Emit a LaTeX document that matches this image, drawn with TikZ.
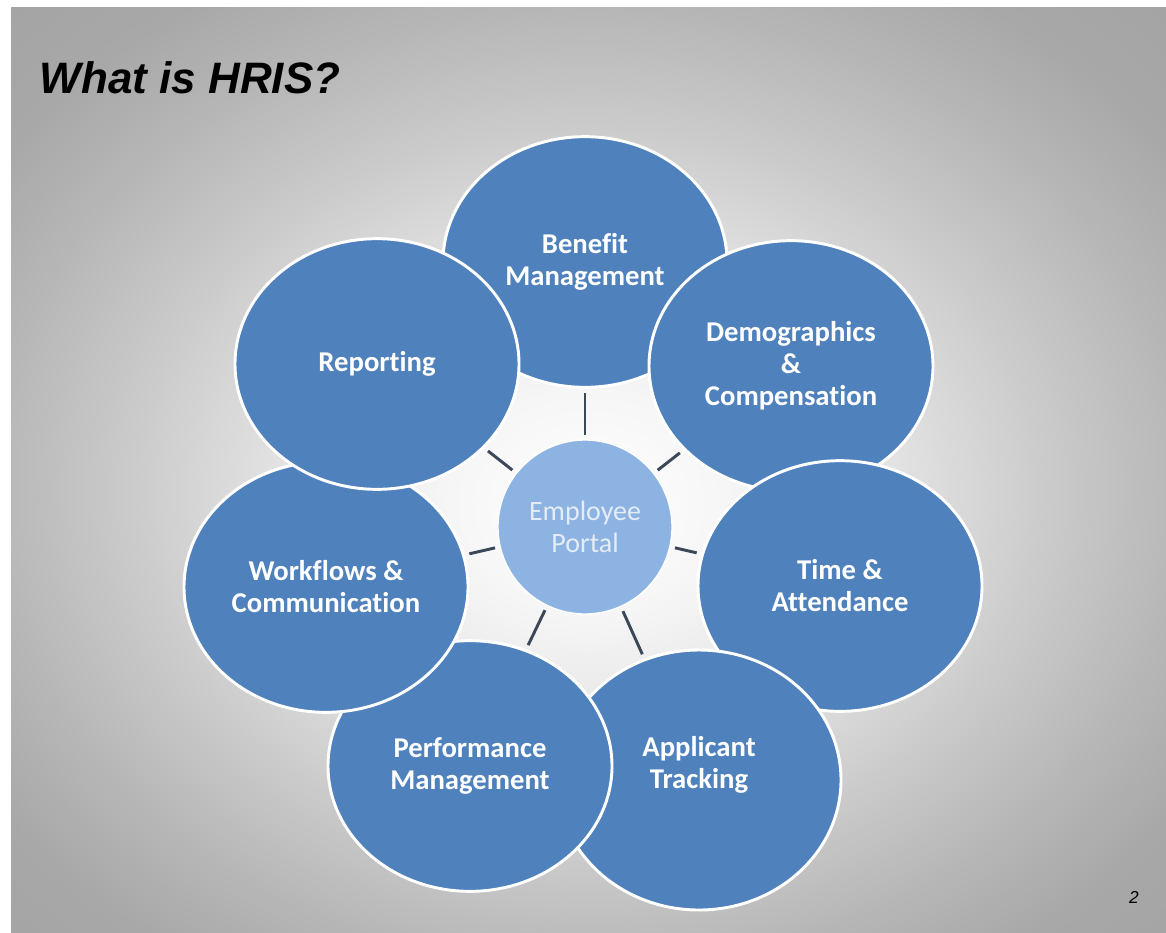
\documentclass[tikz,border=0pt]{standalone}
\usepackage{fontspec}
\setmainfont{Carlito}[Ligatures={NoCommon}]
\newfontfamily\titlefont{Liberation Sans}
\usetikzlibrary{shapes.geometric}

\definecolor{hrisblue}{HTML}{4F81BD}
\definecolor{portalblue}{HTML}{8DB3E2}
\definecolor{portaltext}{HTML}{E4ECF6}
\definecolor{spoke}{HTML}{3A4858}
\definecolor{bgA}{HTML}{F6F6F6}
\definecolor{bgB}{HTML}{E4E4E4}
\definecolor{bgC}{HTML}{CACACA}
\definecolor{bgD}{HTML}{B6B6B6}
\definecolor{bgE}{HTML}{A8A8A8}
\definecolor{bgF}{HTML}{A2A2A2}

\pgfdeclareradialshading{slidebg}{\pgfpoint{0bp}{-2bp}}{%
  color(0bp)=(white); color(6bp)=(bgA); color(13bp)=(bgB);
  color(20bp)=(bgC); color(26bp)=(bgD); color(31bp)=(bgE);
  color(38bp)=(bgF); color(50bp)=(bgF)}

\tikzset{
  module/.style={ellipse, draw=white, line width=2.2pt, fill=hrisblue,
    text=white, minimum width=213pt, minimum height=188pt, inner sep=0pt,
    align=center, font=\bfseries\fontsize{21.5}{24}\selectfont},
  portal/.style={circle, draw=white, line width=1pt, fill=portalblue,
    text=portaltext, minimum size=130.5pt, inner sep=0pt, align=center,
    font=\fontsize{21}{23.5}\selectfont},
  spokeline/.style={draw=spoke, line width=2.2pt,
    shorten >=3.5pt, shorten <=3.5pt}
}

\begin{document}
\begin{tikzpicture}[x=0.75pt,y=-0.75pt]
  \useasboundingbox (0,0) rectangle (1166,932);
  \fill[white] (0,0) rectangle (1166,932);
  \shade[shading=slidebg] (11,7) rectangle (1166,932);

  \node[anchor=base west, font={\titlefont\bfseries\itshape\fontsize{33}{37}\selectfont}]
    (titolo) at (35,93) {What is HRIS?};
  \node[anchor=base, font={\titlefont\itshape\fontsize{13}{15}\selectfont}]
    (pagina) at (1134,903) {2};

  % outer modules, clockwise from the top
  \node[module] (benefit)   at (585,262) {Benefit\\Management};
  \node[module] (demog)     at (791,366) {Demographics\\\&\\Compensation};
  \node[module] (time)      at (840,586) {Time \&\\Attendance};
  \node[module, minimum height=195pt, text depth=27pt]
                (applicant) at (699,780) {Applicant\\Tracking};
  \node[module] (perform)   at (470,766) {Performance\\Management};
  \node[module] (workflow)  at (326,587) {Workflows \&\\Communication};
  \node[module] (report)    at (377,364) {Reporting};

  \node[portal] (portal) at (585,527) {Employee\\Portal};

  \foreach \m in {benefit,demog,time,applicant,perform,workflow,report}
    \draw[spokeline] (portal) -- (\m);
\end{tikzpicture}
\end{document}
